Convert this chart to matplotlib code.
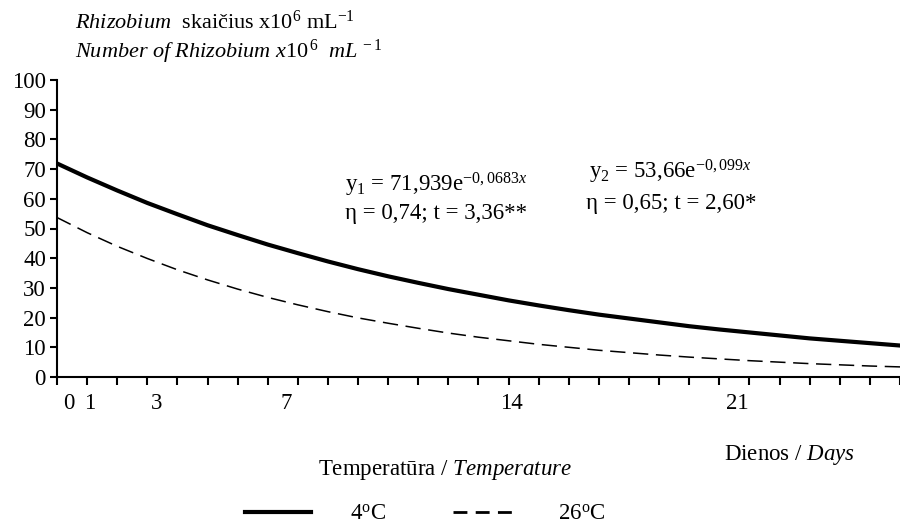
import numpy as np
import matplotlib.pyplot as plt
from matplotlib.lines import Line2D

plt.rcParams['font.family'] = ['Liberation Serif', 'DejaVu Serif']
plt.rcParams['mathtext.fontset'] = 'custom'
plt.rcParams['mathtext.rm'] = 'Liberation Serif'
plt.rcParams['mathtext.it'] = 'Liberation Serif:italic'
plt.rcParams['mathtext.bf'] = 'Liberation Serif:bold'

# values, one per day
days = np.arange(0, 29)
temp_4 = [71.9, 67.2, 62.8, 58.6, 54.8, 51.1, 47.8, 44.6, 41.7, 38.9,
          36.3, 33.9, 31.7, 29.6, 27.7, 25.8, 24.1, 22.5, 21.0, 19.7,
          18.4, 17.1, 16.0, 15.0, 14.0, 13.0, 12.2, 11.4, 10.6]
temp_26 = [53.7, 48.6, 44.0, 39.9, 36.1, 32.7, 29.6, 26.8, 24.3, 22.0,
           19.9, 18.1, 16.4, 14.8, 13.4, 12.2, 11.0, 10.0, 9.0, 8.2,
           7.4, 6.7, 6.1, 5.5, 5.0, 4.5, 4.1, 3.7, 3.4]
day_labels = ['0', '1', '3', '7', '14', '21']
series_names = [r'4$^{\rm o}$C', r'26$^{\rm o}$C']

fs = 16.5

fig = plt.figure(figsize=(9, 5.25), dpi=100)
ax = fig.add_axes([57/900, 1 - 377/525, 1 - 57/900, 297/525])

ax.plot(days, temp_4, color='black', linewidth=3)
ax.plot(days, temp_26, color='black', linewidth=1.1, dashes=(10, 5))

ax.set_xlim(0, 27.8)
ax.set_ylim(0, 100)
ax.set_yticks(np.arange(0, 101, 10))
ax.set_xticks(days)
ax.set_xticklabels([])
ax.tick_params(axis='both', direction='out', width=1.5, labelsize=fs)
ax.tick_params(axis='x', length=6)
ax.tick_params(axis='y', length=5, pad=3)
for s in ['top', 'right']:
    ax.spines[s].set_visible(False)
for s in ['left', 'bottom']:
    ax.spines[s].set_linewidth(1.5)

# day labels sit a bit off the tick marks, as in the original
label_pos = [0.4, 1.1, 3.3, 7.6, 15.1, 22.6]
for lab, xp in zip(day_labels, label_pos):
    ax.text(xp, -8.8, lab, ha='center', va='center', fontsize=fs)

fig.text(75/900, 1 - 22/525,
         r'$\it{Rhizobium}$  skaičius x10$^6$ mL$^{-1}$',
         fontsize=16, va='center')
fig.text(75/900, 1 - 52/525,
         r'$\it{Number\ of\ Rhizobium\ x10^{\,6}\ \ mL^{\,-1}}$',
         fontsize=16, va='center')

fig.text(436/900, 1 - 185/525, r'y$_1$ = 71,939e$^{-0,0683x}$',
         fontsize=fs, ha='center', va='center')
fig.text(436/900, 1 - 214/525, 'η = 0,74; t = 3,36**',
         fontsize=fs, ha='center', va='center')
fig.text(670/900, 1 - 172/525, r'y$_2$ = 53,66e$^{-0,099x}$',
         fontsize=fs, ha='center', va='center')
fig.text(671/900, 1 - 203/525, 'η = 0,65; t = 2,60*',
         fontsize=fs, ha='center', va='center')

fig.text(445/900, 1 - 470/525, r'Temperatūra / $\it{Temperature}$',
         fontsize=fs, ha='center', va='center')
fig.text(789/900, 1 - 455/525, r'Dienos / $\it{Days}$',
         fontsize=fs, ha='center', va='center')

handles = [Line2D([], [], color='black', linewidth=3),
           Line2D([], [], color='black', linewidth=2, dashes=(5, 3))]
fig.legend(handles, series_names, loc='center',
           bbox_to_anchor=(425/900, 1 - 514/525), ncol=2, frameon=False,
           fontsize=fs, handlelength=2.9, handletextpad=1.7,
           columnspacing=2.9)

fig.savefig('out.png', dpi=100)
